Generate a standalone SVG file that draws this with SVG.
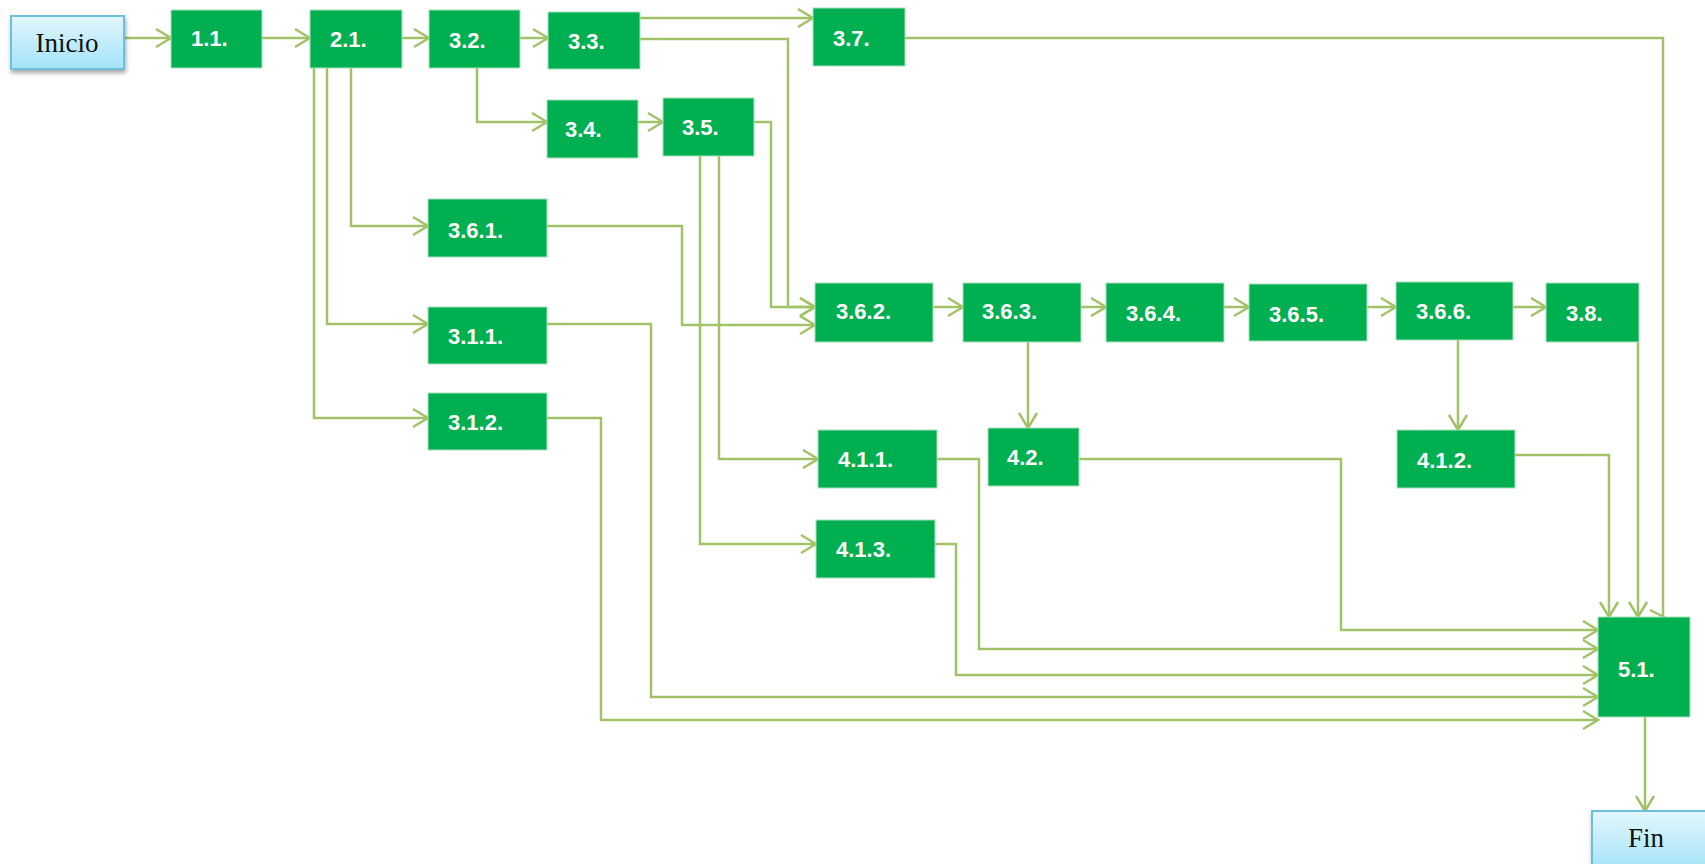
<svg xmlns="http://www.w3.org/2000/svg" width="1705" height="864" viewBox="0 0 1705 864">
  <defs>
    <linearGradient id="terminalFill" x1="0" y1="0" x2="0" y2="1">
      <stop offset="0" stop-color="#E3F7FE"/>
      <stop offset="1" stop-color="#A3E2F8"/>
    </linearGradient>
    <filter id="softShadow" x="-20%" y="-20%" width="140%" height="160%">
      <feDropShadow dx="1" dy="3" stdDeviation="2" flood-color="#000" flood-opacity="0.35"/>
    </filter>
    <marker id="openArrow" viewBox="0 0 18 22" refX="16" refY="11" markerWidth="18" markerHeight="22" markerUnits="userSpaceOnUse" orient="auto">
      <path d="M1,2 L16,11 L1,20" fill="none" stroke="#A2C267" stroke-width="2.5"/>
    </marker>
  </defs>
  <style>
    .task rect { fill: #00B050; stroke: #A8E0B8; stroke-width: 1; }
    .task text { font-family: "Liberation Sans", Arial, sans-serif; font-weight: bold; font-size: 22px; fill: #FFFFFF; }
    .terminal rect { fill: url(#terminalFill); stroke: #6CC0DC; stroke-width: 2; }
    .terminal text { font-family: "Liberation Serif", "Times New Roman", serif; font-size: 27px; fill: #111111; }
    .links path { fill: none; stroke: #A2C267; stroke-width: 2.5; }
    .links .arr { marker-end: url(#openArrow); }
  </style>

  <rect width="1705" height="864" fill="#FFFFFF"/>

  <!-- connectors -->
  <g id="connectors" class="links">
    <path class="arr" d="M124,38 H171"/>
    <path class="arr" d="M262,38 H310"/>
    <path class="arr" d="M402,38 H429"/>
    <path class="arr" d="M520,38 H548"/>
    <path class="arr" d="M640,18 H813"/>
    <path class="arr" d="M640,39 H788 V307 H815"/>
    <path class="arr" d="M477,68 V122 H547"/>
    <path class="arr" d="M638,122 H663"/>
    <path class="arr" d="M754,122 H771 V307 H815"/>
    <path class="arr" d="M719,156 V459 H818"/>
    <path class="arr" d="M700,156 V544 H816"/>
    <path class="arr" d="M351,68 V226 H428"/>
    <path class="arr" d="M327,68 V324 H428"/>
    <path class="arr" d="M314,68 V418 H428"/>
    <path class="arr" d="M547,226 H682 V325 H815"/>
    <path class="arr" d="M933,307 H963"/>
    <path class="arr" d="M1081,307 H1106"/>
    <path class="arr" d="M1224,307 H1249"/>
    <path class="arr" d="M1367,307 H1396"/>
    <path class="arr" d="M1513,307 H1546"/>
    <path class="arr" d="M1028,342 V428"/>
    <path class="arr" d="M1458,340 V430"/>
    <!-- 3.7 feeds 5.1 from above; its head sits sideways on the corner -->
    <path d="M905,38 H1663 V617"/>
    <path d="M1650,610 L1664,617 L1651,627"/>
    <path class="arr" d="M1638,342 V617"/>
    <path class="arr" d="M1515,455 H1609 V617"/>
    <path class="arr" d="M1079,459 H1341 V630 H1598"/>
    <path class="arr" d="M937,459 H979 V649 H1598"/>
    <path class="arr" d="M935,544 H956 V675 H1598"/>
    <path class="arr" d="M547,324 H651 V697 H1598"/>
    <path class="arr" d="M547,418 H601 V720 H1598"/>
    <path class="arr" d="M1645,717 V811"/>
  </g>

  <!-- start / end -->
  <g id="inicio" class="terminal">
    <rect x="11" y="16" width="113" height="53" filter="url(#softShadow)"/>
    <text x="67" y="52" text-anchor="middle">Inicio</text>
  </g>
  <g id="fin" class="terminal">
    <rect x="1592" y="811" width="125" height="60" filter="url(#softShadow)"/>
    <text x="1646" y="847" text-anchor="middle">Fin</text>
  </g>

  <!-- activities -->
  <g id="n1-1" class="task"><rect x="171" y="10" width="91" height="58"/><text x="191" y="46">1.1.</text></g>
  <g id="n2-1" class="task"><rect x="310" y="10" width="92" height="58"/><text x="330" y="47">2.1.</text></g>
  <g id="n3-2" class="task"><rect x="429" y="10" width="91" height="58"/><text x="449" y="48">3.2.</text></g>
  <g id="n3-3" class="task"><rect x="548" y="12" width="92" height="57"/><text x="568" y="49">3.3.</text></g>
  <g id="n3-7" class="task"><rect x="813" y="8" width="92" height="58"/><text x="833" y="46">3.7.</text></g>
  <g id="n3-4" class="task"><rect x="547" y="100" width="91" height="58"/><text x="565" y="137">3.4.</text></g>
  <g id="n3-5" class="task"><rect x="663" y="98" width="91" height="58"/><text x="682" y="135">3.5.</text></g>
  <g id="n3-6-1" class="task"><rect x="428" y="199" width="119" height="58"/><text x="448" y="238">3.6.1.</text></g>
  <g id="n3-1-1" class="task"><rect x="428" y="307" width="119" height="57"/><text x="448" y="344">3.1.1.</text></g>
  <g id="n3-1-2" class="task"><rect x="428" y="393" width="119" height="57"/><text x="448" y="430">3.1.2.</text></g>
  <g id="n3-6-2" class="task"><rect x="815" y="283" width="118" height="59"/><text x="836" y="319">3.6.2.</text></g>
  <g id="n3-6-3" class="task"><rect x="963" y="283" width="118" height="59"/><text x="982" y="319">3.6.3.</text></g>
  <g id="n3-6-4" class="task"><rect x="1106" y="283" width="118" height="59"/><text x="1126" y="321">3.6.4.</text></g>
  <g id="n3-6-5" class="task"><rect x="1249" y="284" width="118" height="57"/><text x="1269" y="322">3.6.5.</text></g>
  <g id="n3-6-6" class="task"><rect x="1396" y="282" width="117" height="58"/><text x="1416" y="319">3.6.6.</text></g>
  <g id="n3-8" class="task"><rect x="1546" y="283" width="93" height="59"/><text x="1566" y="321">3.8.</text></g>
  <g id="n4-1-1" class="task"><rect x="818" y="430" width="119" height="58"/><text x="838" y="467">4.1.1.</text></g>
  <g id="n4-2" class="task"><rect x="988" y="428" width="91" height="58"/><text x="1007" y="465">4.2.</text></g>
  <g id="n4-1-2" class="task"><rect x="1397" y="430" width="118" height="58"/><text x="1417" y="468">4.1.2.</text></g>
  <g id="n4-1-3" class="task"><rect x="816" y="520" width="119" height="58"/><text x="836" y="557">4.1.3.</text></g>
  <g id="n5-1" class="task"><rect x="1598" y="617" width="92" height="100"/><text x="1618" y="677">5.1.</text></g>
</svg>
